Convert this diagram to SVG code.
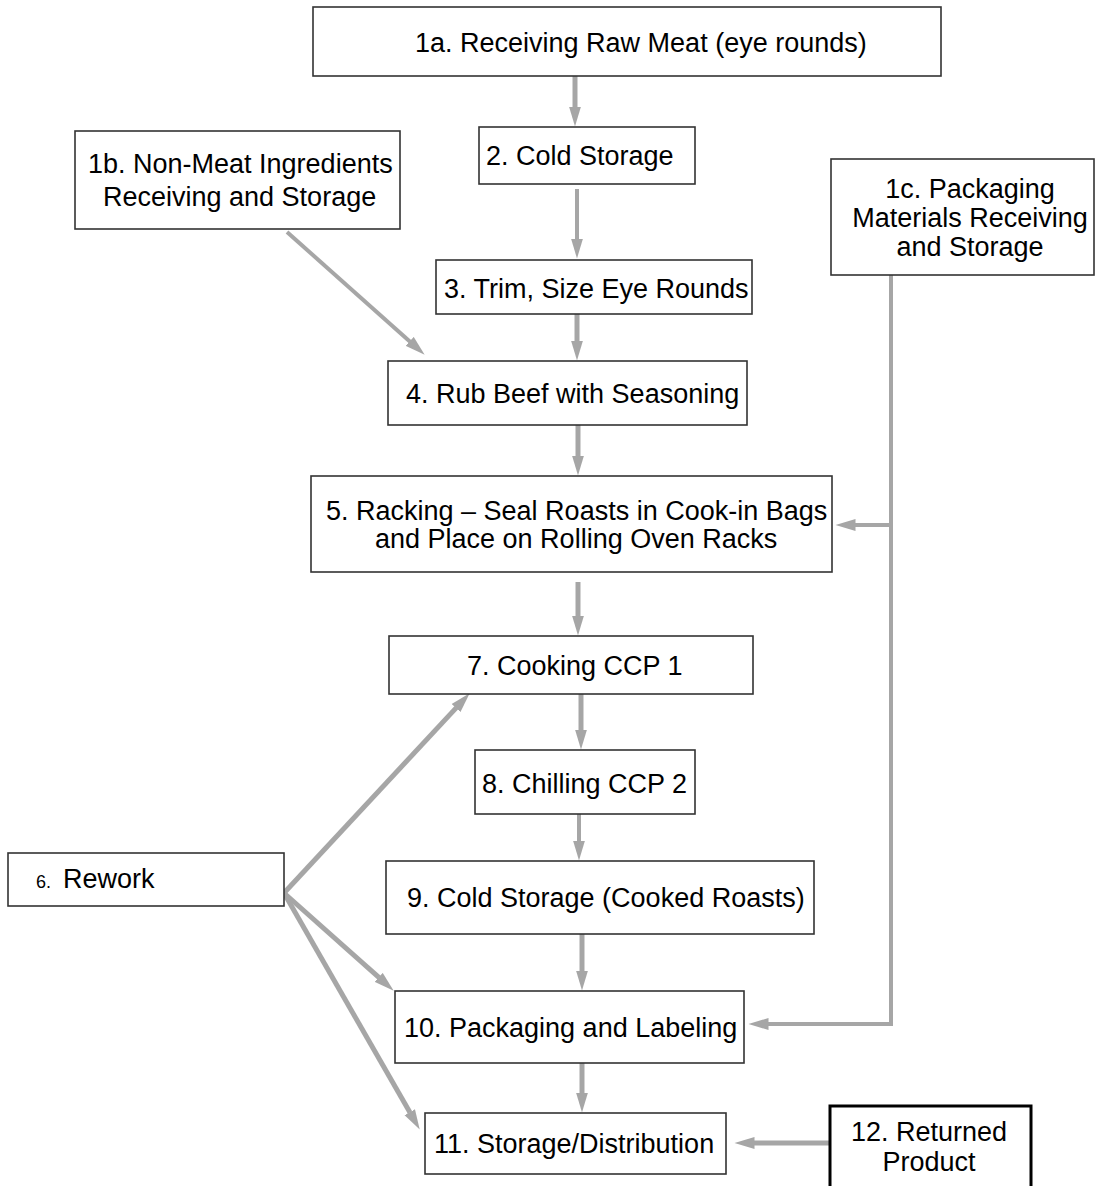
<svg xmlns="http://www.w3.org/2000/svg" width="1095" height="1186" viewBox="0 0 1095 1186">
<style>
.box{fill:#fff;stroke:#333;stroke-width:1.6}
.thick{fill:#fff;stroke:#000;stroke-width:3}
text{font-family:"Liberation Sans",Arial,sans-serif;font-size:27px;fill:#000}
.c{text-anchor:middle}
.ln{fill:none;stroke:#A6A6A6;stroke-width:5}
.ln4{fill:none;stroke:#A6A6A6;stroke-width:4}
</style>
<defs>
<marker id="ah" markerUnits="userSpaceOnUse" markerWidth="21" markerHeight="13" refX="0.5" refY="6.5" orient="auto">
<path d="M0,0.5 L20,6.5 L0,12.5 z" fill="#A6A6A6"/>
</marker>
</defs>
<rect width="1095" height="1186" fill="#fff"/>
<g id="connectors">
<line class="ln" x1="575" y1="76" x2="575" y2="107" marker-end="url(#ah)"/>
<line class="ln4" x1="577" y1="189" x2="577" y2="239" marker-end="url(#ah)"/>
<line class="ln" x1="577" y1="314" x2="577" y2="341" marker-end="url(#ah)"/>
<line class="ln" x1="578" y1="425" x2="578" y2="456" marker-end="url(#ah)"/>
<line class="ln" x1="578" y1="582" x2="578" y2="616" marker-end="url(#ah)"/>
<line class="ln" x1="581" y1="694" x2="581" y2="730" marker-end="url(#ah)"/>
<line class="ln4" x1="579" y1="814" x2="579" y2="841" marker-end="url(#ah)"/>
<line class="ln" x1="582" y1="934" x2="582" y2="971" marker-end="url(#ah)"/>
<line class="ln" x1="582" y1="1063" x2="582" y2="1093" marker-end="url(#ah)"/>
<line class="ln" x1="829" y1="1143" x2="754" y2="1143" marker-end="url(#ah)"/>
<polyline class="ln4" points="891,275 891,1024 768,1024" marker-end="url(#ah)"/>
<line class="ln4" x1="891" y1="525" x2="855" y2="525" marker-end="url(#ah)"/>
<line class="ln4" x1="287" y1="232" x2="410.1" y2="341.7" marker-end="url(#ah)"/>
<line class="ln" x1="284" y1="893" x2="456.4" y2="707.6" marker-end="url(#ah)"/>
<line class="ln" x1="284" y1="893" x2="379.1" y2="977.7" marker-end="url(#ah)"/>
<line class="ln" x1="284" y1="893" x2="410" y2="1112.6" marker-end="url(#ah)"/>
</g>
<g id="n1a"><rect class="box" x="313" y="7" width="628" height="69"/><text x="415" y="52">1a. Receiving Raw Meat (eye rounds)</text></g>
<g id="n1b"><rect class="box" x="75" y="131" width="325" height="98"/><text x="88" y="173">1b. Non-Meat Ingredients</text><text x="103" y="206">Receiving and Storage</text></g>
<g id="n2"><rect class="box" x="479" y="127" width="216" height="57"/><text x="486" y="165">2. Cold Storage</text></g>
<g id="n3"><rect class="box" x="436" y="260" width="316" height="54"/><text x="444" y="298">3. Trim, Size Eye Rounds</text></g>
<g id="n1c"><rect class="box" x="831" y="159" width="263" height="116"/><text class="c" x="970" y="198">1c. Packaging</text><text class="c" x="970" y="227">Materials Receiving</text><text class="c" x="970" y="256">and Storage</text></g>
<g id="n4"><rect class="box" x="388" y="361" width="359" height="64"/><text x="406" y="403">4. Rub Beef with Seasoning</text></g>
<g id="n5"><rect class="box" x="311" y="476" width="521" height="96"/><text x="326" y="520">5. Racking – Seal Roasts in Cook-in Bags</text><text x="375" y="548">and Place on Rolling Oven Racks</text></g>
<g id="n6"><rect class="box" x="8" y="853" width="276" height="53"/><text x="36" y="888"><tspan font-size="18">6.</tspan><tspan x="63">Rework</tspan></text></g>
<g id="n7"><rect class="box" x="389" y="636" width="364" height="58"/><text x="467" y="675">7. Cooking CCP 1</text></g>
<g id="n8"><rect class="box" x="475" y="750" width="220" height="64"/><text x="482" y="793">8. Chilling CCP 2</text></g>
<g id="n9"><rect class="box" x="386" y="861" width="428" height="73"/><text x="407" y="907">9. Cold Storage (Cooked Roasts)</text></g>
<g id="n10"><rect class="box" x="395" y="991" width="349" height="72"/><text x="404" y="1037">10. Packaging and Labeling</text></g>
<g id="n11"><rect class="box" x="425" y="1113" width="301" height="61"/><text x="434" y="1153">11. Storage/Distribution</text></g>
<g id="n12"><rect class="thick" x="830" y="1106" width="201" height="90"/><text class="c" x="929" y="1141">12. Returned</text><text class="c" x="929" y="1171">Product</text></g>
</svg>
